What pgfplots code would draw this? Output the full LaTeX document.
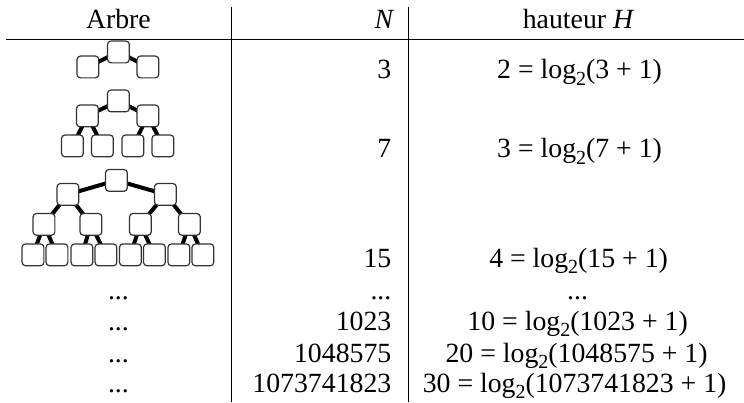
\documentclass[border=0pt]{standalone}
\usepackage{fontspec}
\setmainfont{Liberation Serif}
\usepackage{pgfplots}
\pgfplotsset{compat=1.18}
\pgfdeclareplotmark{rbox}{%
  \pgfpathmoveto{\pgfpoint{-\pgfplotmarksize+1.7pt}{-\pgfplotmarksize}}%
  \pgfpathlineto{\pgfpoint{\pgfplotmarksize-1.7pt}{-\pgfplotmarksize}}%
  \pgfpatharc{270}{360}{1.7pt}%
  \pgfpathlineto{\pgfpoint{\pgfplotmarksize}{\pgfplotmarksize-1.7pt}}%
  \pgfpatharc{0}{90}{1.7pt}%
  \pgfpathlineto{\pgfpoint{-\pgfplotmarksize+1.7pt}{\pgfplotmarksize}}%
  \pgfpatharc{90}{180}{1.7pt}%
  \pgfpathlineto{\pgfpoint{-\pgfplotmarksize}{-\pgfplotmarksize+1.7pt}}%
  \pgfpatharc{180}{270}{1.7pt}%
  \pgfpathclose
  \pgfusepathqfillstroke}
\newcommand\fs{\fontsize{13.9}{16}\selectfont}
\newcommand\sub[1]{\raisebox{-0.22em}{\fontsize{10}{10}\selectfont #1}}
\newcommand\fm[2]{#1 = log\sub{2}(#2 + 1)}
\begin{document}
\begin{tikzpicture}[t/.style={inner sep=0pt, font=\fs}]
\begin{axis}[x=0.5pt, y=0.5pt, y dir=reverse,
  xmin=0, xmax=744, ymin=0, ymax=402,
  hide axis, clip=false]
\addplot[draw=none, forget plot] coordinates {(0,0) (744,402)};
% table rules
\addplot[black, line width=0.5pt] coordinates {(6,39.5) (744,39.5)};
\addplot[black, line width=0.5pt] coordinates {(231.5,7) (231.5,402)};
\addplot[black, line width=0.5pt] coordinates {(409,7) (409,402)};
% tree edges
\addplot[black, line width=2pt, unbounded coords=jump] coordinates {
  (88,67) (118.5,52) (148,67) (nan,nan)
  (87.5,116) (118.5,101) (148,116) (nan,nan)
  (72.5,146) (87.5,116) (102.5,146) (nan,nan)
  (133,146) (148,116) (163,146) (nan,nan)
  (68,194.5) (116.5,180.5) (165.5,194.5) (nan,nan)
  (44,224.5) (68,194.5) (91,224.5) (nan,nan)
  (140.5,224.5) (165.5,194.5) (189.5,224.5) (nan,nan)
  (33,255) (44,224.5) (57,255) (nan,nan)
  (82,255) (91,224.5) (106,255) (nan,nan)
  (130.5,255) (140.5,224.5) (154.5,255) (nan,nan)
  (179,255) (189.5,224.5) (203,255)
};
% tree nodes
\addplot[only marks, mark=rbox, mark size=5.45pt, draw=black!80, fill=white,
  mark options={line width=0.6pt, draw=black!80, fill=white}] coordinates {
  (118.5,52) (88,67) (148,67)
  (118.5,101) (87.5,116) (148,116)
  (72.5,146) (102.5,146) (133,146) (163,146)
  (116.5,180.5) (68,194.5) (165.5,194.5)
  (44,224.5) (91,224.5) (140.5,224.5) (189.5,224.5)
  (33,255) (57,255) (82,255) (106,255) (130.5,255) (154.5,255) (179,255) (203,255)
};
% header
\node[t, anchor=base] at (axis cs:118.5,28.5) {Arbre};
\node[t, anchor=base east] at (axis cs:395,28.5) {\textit{N}};
\node[t, anchor=base] at (axis cs:579,28.5) {hauteur \textit{H}};
% N column
\node[t, anchor=base east] at (axis cs:392,79) {3};
\node[t, anchor=base east] at (axis cs:392,158) {7};
\node[t, anchor=base east] at (axis cs:392,267.5) {15};
\node[t, anchor=base east] at (axis cs:392,300) {...};
\node[t, anchor=base east] at (axis cs:392,331) {1023};
\node[t, anchor=base east] at (axis cs:392,362.5) {1048575};
\node[t, anchor=base east] at (axis cs:392,393) {1073741823};
% H column
\node[t, anchor=base] at (axis cs:580,79) {\fm{2}{3}};
\node[t, anchor=base] at (axis cs:580,158) {\fm{3}{7}};
\node[t, anchor=base] at (axis cs:579,267.5) {\fm{4}{15}};
\node[t, anchor=base] at (axis cs:578,300) {...};
\node[t, anchor=base] at (axis cs:578,331) {\fm{10}{1023}};
\node[t, anchor=base] at (axis cs:577,362.5) {\fm{20}{1048575}};
\node[t, anchor=base] at (axis cs:575,393) {\fm{30}{1073741823}};
% Arbre column dots
\node[t, anchor=base] at (axis cs:118.5,300) {...};
\node[t, anchor=base] at (axis cs:118.5,331) {...};
\node[t, anchor=base] at (axis cs:118.5,362.5) {...};
\node[t, anchor=base] at (axis cs:118.5,393) {...};
\end{axis}
\end{tikzpicture}
\end{document}
